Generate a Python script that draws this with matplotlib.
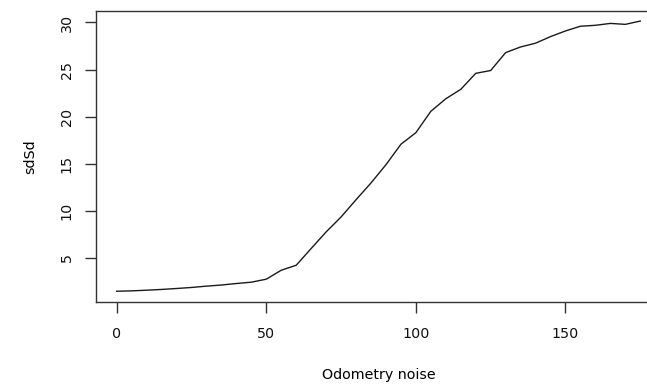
import matplotlib
matplotlib.use("Agg")
import matplotlib.pyplot as plt

# odometry noise levels and the resulting sdSd
noise = [0, 5, 10, 15, 20, 25, 30, 35, 40, 45, 50, 55, 60, 65, 70, 75, 80, 85,
         90, 95, 100, 105, 110, 115, 120, 125, 130, 135, 140, 145, 150, 155,
         160, 165, 170, 175]
sdsd = [1.46, 1.5, 1.57, 1.65, 1.75, 1.86, 2.0, 2.12, 2.28, 2.42, 2.74, 3.69,
        4.22, 6.0, 7.76, 9.35, 11.18, 12.96, 14.9, 17.07, 18.3, 20.57, 21.9,
        22.9, 24.6, 24.9, 26.8, 27.4, 27.8, 28.5, 29.1, 29.6, 29.7, 29.9,
        29.8, 30.15]
xticks = [0, 50, 100, 150]
yticks = [5, 10, 15, 20, 25, 30]

plt.rcParams['font.family'] = ['DejaVu Sans']
plt.rcParams['font.size'] = 10.3

fig = plt.figure(figsize=(6.47, 3.85), dpi=100)
# axes box runs off the right edge of the picture, like the reference
ax = fig.add_axes([0.148, 0.2164, 0.874, 0.7558])

ax.plot(noise, sdsd, color="#1a1a1a", lw=1.0)

ax.set_xlim(-7, 182)
ax.set_ylim(0.35, 31.25)
ax.set_xticks(xticks)
ax.set_yticks(yticks)
ax.set_yticklabels([str(v) for v in yticks], rotation=90, va="center")

for s in ax.spines.values():
    s.set_color("#333333")
    s.set_linewidth(1.0)
ax.spines["right"].set_visible(False)

ax.tick_params(axis="both", direction="out", length=8, width=1.0,
               color="#333333", labelcolor="#111111")
ax.tick_params(axis="x", pad=10)
ax.tick_params(axis="y", pad=8)

ax.set_xlabel("Odometry noise")
ax.set_ylabel("sdSd")
ax.xaxis.set_label_coords(0.5, -0.252)
ax.xaxis.label.set_va("center")
ax.yaxis.set_label_coords(-0.116, 0.5)
ax.yaxis.label.set_va("center")

fig.savefig("out.png", dpi=100)
